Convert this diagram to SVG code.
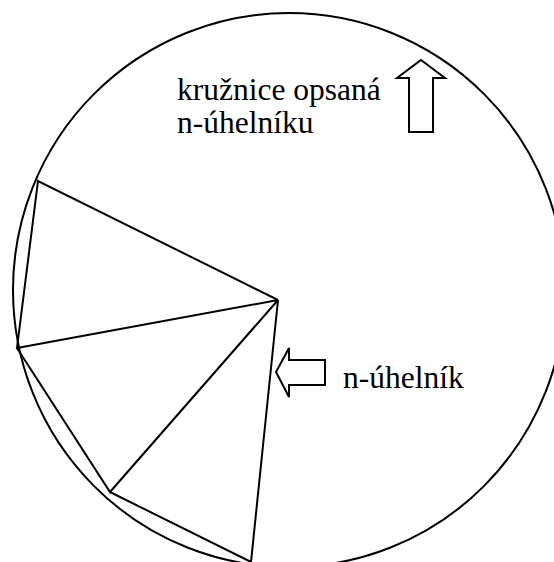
<svg xmlns="http://www.w3.org/2000/svg" width="554" height="562" viewBox="0 0 554 562">
<style>
.ln{fill:none;stroke:#000;stroke-width:2;stroke-linejoin:miter}
.ar{fill:#fff;stroke:#000;stroke-width:2}
.t{font-family:"Liberation Serif","Times New Roman",serif;font-size:31.5px;fill:#000}
</style>
<rect width="554" height="562" fill="#fff"/>
<g id="circle"><ellipse class="ln" cx="289" cy="290" rx="276" ry="277"/></g>
<g id="polygon">
<polyline class="ln" points="278,300 38,181 17,348 278,300"/>
<polyline class="ln" points="17,348 110,492 278,300"/>
<polyline class="ln" points="110,492 251,562 278,300"/>
</g>
<g id="arrow-up"><polygon class="ar" points="421,60 445,78 433,78 433,132 409,132 409,78 397,78"/></g>
<g id="arrow-left"><polygon class="ar" points="276,372 289,348 289,360 325,360 325,385 289,385 289,397"/></g>
<g id="label-circle">
<text class="t" x="177" y="100">kružnice opsaná</text>
<text class="t" x="177" y="133">n-úhelníku</text>
</g>
<g id="label-polygon"><text class="t" x="343" y="388">n-úhelník</text></g>
</svg>
